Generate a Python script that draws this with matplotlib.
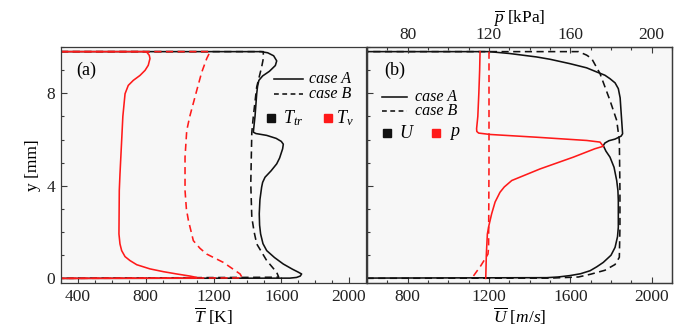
import matplotlib
matplotlib.use('Agg')
import matplotlib.pyplot as plt
from matplotlib.ticker import MultipleLocator

plt.rcParams['font.family'] = ['Liberation Serif', 'DejaVu Serif']
plt.rcParams['mathtext.fontset'] = 'custom'
plt.rcParams['mathtext.rm'] = 'Liberation Serif'
plt.rcParams['mathtext.it'] = 'Liberation Serif:italic'
plt.rcParams['mathtext.bf'] = 'Liberation Serif:bold'

# ---------------- data: panel (a) temperatures ----------------
Tv_A_y = [9.8, 9.8, 9.78, 9.64, 9.5, 9.21, 8.99, 8.77, 8.56, 8.34, 7.98, 7.0, 5.96, 4.5, 3.8,
          1.92, 1.49, 1.2, 0.94, 0.77, 0.59, 0.41, 0.29, 0.19, 0.1, 0.04, 0.01, 0.0]
Tv_A = [300, 790, 806, 821, 825, 815, 796, 766, 727, 697, 678, 665, 658, 648, 644,
        642, 648, 658, 678, 707, 747, 825, 904, 983, 1061, 1101, 1100, 300]

Tv_B_y = [9.8, 9.8, 9.5, 8.9, 8.12, 7.0, 6.39, 5.24, 3.8, 3.0, 2.5, 1.63, 1.3, 1.05, 0.69,
          0.19, 0.02, 0.0]
Tv_B = [300, 1180, 1160, 1130, 1101, 1060, 1042, 1032, 1032, 1040, 1052, 1081, 1120, 1160, 1258,
        1357, 1370, 300]

Ttr_A_y = [9.8, 9.8, 9.75, 9.62, 9.4, 9.2, 8.95, 8.75, 8.56, 8.3, 7.98, 7.0, 6.32, 6.26, 6.18,
           6.05, 5.92, 5.8, 5.6, 5.2, 4.95, 4.65, 4.37, 4.15, 3.94, 3.4, 2.79, 2.3, 1.92, 1.5,
           1.2, 0.9, 0.62, 0.4, 0.27, 0.19, 0.1, 0.04, 0.01, 0.0]
Ttr_A = [300, 1480, 1520, 1555, 1573, 1565, 1530, 1490, 1468, 1460, 1455, 1445, 1435, 1450, 1514,
         1570, 1600, 1612, 1608, 1590, 1573, 1540, 1504, 1490, 1484, 1474, 1470, 1472, 1478, 1492,
         1514, 1560, 1612, 1665, 1700, 1720, 1712, 1690, 1650, 300]

Ttr_B_y = [9.8, 9.8, 9.5, 9.13, 8.27, 7.0, 6.3, 4.09, 2.64, 2.0, 1.49, 0.77, 0.26, 0.05, 0.0]
Ttr_B = [300, 1494, 1494, 1484, 1455, 1435, 1426, 1420, 1426, 1440, 1455, 1514, 1573, 1585, 300]

# ---------------- data: panel (b) velocity and pressure ----------------
U_A_y = [9.8, 9.8, 9.72, 9.57, 9.47, 9.28, 9.1, 8.92, 8.78, 8.63, 8.45, 8.2, 7.8, 7.4, 6.25,
         6.15, 6.02, 5.95, 5.85, 5.74, 5.5, 5.24, 4.8, 4.23, 3.8, 3.36, 2.21, 1.8, 1.34, 1.0,
         0.69, 0.5, 0.33, 0.2, 0.12, 0.06, 0.03, 0.0]
U_A = [0, 1200, 1300, 1434, 1500, 1598, 1680, 1730, 1770, 1795, 1820, 1836, 1845, 1848, 1857,
       1850, 1820, 1790, 1770, 1762, 1775, 1795, 1815, 1828, 1834, 1836, 1836, 1832, 1820, 1800,
       1762, 1730, 1697, 1650, 1598, 1540, 1484, 0]

U_B_y = [9.8, 9.8, 9.65, 9.5, 8.85, 7.69, 6.83, 5.96, 3.8, 2.21, 0.91, 0.6, 0.35, 0.18, 0.06,
         0.01, 0.0]
U_B = [0, 1640, 1680, 1705, 1746, 1795, 1828, 1841, 1844, 1844, 1841, 1820, 1770, 1700, 1640,
       1500, 0]

p_A_y = [9.8, 9.0, 8.0, 7.0, 6.47, 6.35, 6.28, 6.22, 6.1, 5.96, 5.89, 5.71, 5.6, 5.24, 4.73,
         4.23, 3.95, 3.72, 3.3, 2.79, 2.3, 1.92, 1.05, 0.0]
p_A = [115.6, 115.4, 115.0, 114.5, 113.9, 114.0, 114.9, 120.5, 143.5, 168.1, 174.6, 176.2, 172.0,
       161.5, 145.1, 131.2, 127.5, 125.4, 123.0, 121.3, 120.0, 119.2, 118.7, 118.4]

p_B_y = [9.8, 5.0, 1.34, 1.05, 0.55, 0.0]
p_B = [120.0, 120.0, 119.8, 119.5, 116.0, 111.5]

T_ticks = [400, 800, 1200, 1600, 2000]
U_ticks = [800, 1200, 1600, 2000]
p_ticks = [80, 120, 160, 200]
y_ticks = [0, 4, 8]

RED = '#ff1a1a'
BLK = '#111111'
BG = '#f7f7f7'
SPINE = '#3a3a3a'
FS = 12.5
LFS = 11.5
LW = 1.15
DASH = (4.5, 2.8)

fig = plt.figure(figsize=(6.83, 3.30), dpi=100)
axL = fig.add_axes([61 / 683, 47 / 330, 305 / 683, 236 / 330])
axR = fig.add_axes([367 / 683, 47 / 330, 305 / 683, 236 / 330])

for ax in (axL, axR):
    ax.set_facecolor(BG)
    ax.set_ylim(-0.2, 10)
    ax.set_yticks(y_ticks)
    ax.yaxis.set_minor_locator(MultipleLocator(1))
    for s in ax.spines.values():
        s.set_color(SPINE)
        s.set_linewidth(0.9)
    ax.tick_params(which='both', direction='in', top=False, right=False,
                   labelsize=FS, colors=SPINE, labelcolor='#222222', width=0.8)
    ax.tick_params(which='major', length=4, pad=4)
    ax.tick_params(which='minor', length=2)

# ----- panel (a) -----
axL.plot(Ttr_A, Ttr_A_y, color=BLK, lw=LW)
axL.plot(Ttr_B, Ttr_B_y, color=BLK, lw=LW, ls='--', dashes=DASH)
axL.plot(Tv_A, Tv_A_y, color=RED, lw=LW)
axL.plot(Tv_B, Tv_B_y, color=RED, lw=LW, ls='--', dashes=DASH)
axL.set_xlim(300, 2100)
axL.set_xticks(T_ticks)
axL.xaxis.set_minor_locator(MultipleLocator(100))
axL.set_xlabel(r'$\overline{T}$ [K]', fontsize=FS, labelpad=1)
axL.set_ylabel('y [mm]', fontsize=FS, labelpad=4)

# ----- panel (b) -----
axR.plot(U_A, U_A_y, color=BLK, lw=LW)
axR.plot(U_B, U_B_y, color=BLK, lw=LW, ls='--', dashes=DASH)
axR.set_xlim(600, 2100)
axR.set_xticks(U_ticks)
axR.xaxis.set_minor_locator(MultipleLocator(100))
axR.tick_params(labelleft=False)
axR.set_xlabel(r'$\overline{U}$ $[m/s]$', fontsize=FS, labelpad=1)

axP = axR.twiny()
axP.plot(p_A, p_A_y, color=RED, lw=LW)
axP.plot(p_B, p_B_y, color=RED, lw=LW, ls='--', dashes=DASH)
axP.set_xlim(60, 210)
axP.set_ylim(-0.2, 10)
axP.set_xticks(p_ticks)
axP.xaxis.set_minor_locator(MultipleLocator(10))
for s in axP.spines.values():
    s.set_color(SPINE)
    s.set_linewidth(0.9)
axP.tick_params(which='both', direction='in', labelsize=FS, colors=SPINE,
                labelcolor='#222222', width=0.8)
axP.tick_params(which='major', length=4, pad=3)
axP.tick_params(which='minor', length=2)
axP.set_xlabel(r'$\overline{p}$ [kPa]', fontsize=FS, labelpad=3)


def legend(ax, lx0, lx1, ty, txs, labels, sq, sq_labels, sqy, sq_tx):
    t = ax.transAxes
    ax.plot([lx0, lx1], [ty[0], ty[0]], color=BLK, lw=LW, transform=t)
    ax.plot([lx0, lx1], [ty[1], ty[1]], color=BLK, lw=LW, ls='--', dashes=(3, 2.2), transform=t)
    for yy, lab in zip(ty, labels):
        ax.text(txs, yy, lab, transform=t, fontsize=LFS, style='italic', va='center', ha='left')
    for (x, c), lab, tx in zip(sq, sq_labels, sq_tx):
        ax.plot([x], [sqy], marker='s', ms=6.3, color=c, mec=c, transform=t)
        ax.text(tx, sqy, lab, transform=t, fontsize=FS + 0.5, va='center', ha='left')


legend(axL, 0.698, 0.793, (0.864, 0.800), 0.813, ('case A', 'case B'),
       [(0.689, BLK), (0.874, RED)], [r'$T_{tr}$', r'$T_{v}$'], 0.700, [0.727, 0.902])
axL.text(0.082, 0.899, '(a)', transform=axL.transAxes, fontsize=FS + 0.5, ha='center', va='center')

legend(axP, 0.049, 0.131, (0.789, 0.727), 0.157, ('case A', 'case B'),
       [(0.067, BLK), (0.225, RED)], [r'$U$', r'$p$'], 0.634, [0.105, 0.27])
axP.text(0.092, 0.899, '(b)', transform=axP.transAxes, fontsize=FS + 0.5, ha='center', va='center')

fig.savefig('out.png', dpi=100, facecolor='white')
